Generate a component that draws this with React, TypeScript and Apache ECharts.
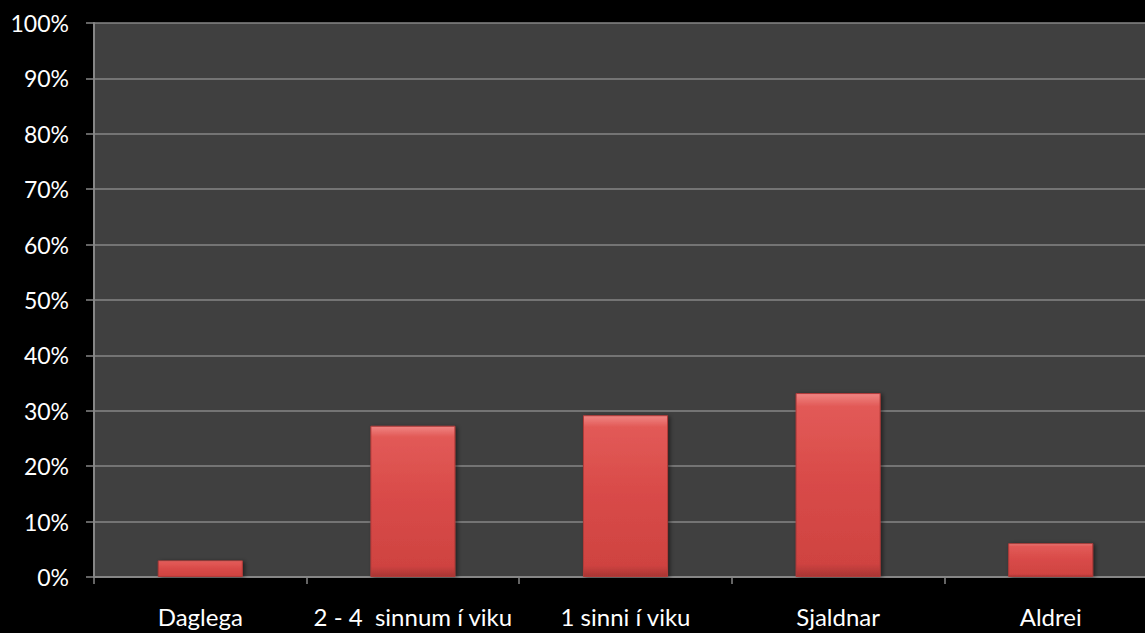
import React, { useEffect, useRef } from "react";
import * as echarts from "echarts";

const categories = ["Daglega", "2 - 4  sinnum í viku", "1 sinni í viku", "Sjaldnar", "Aldrei"];
const values = [0.03, 0.273, 0.292, 0.332, 0.061];
const yTicks = [0, 0.1, 0.2, 0.3, 0.4, 0.5, 0.6, 0.7, 0.8, 0.9, 1];

export default function App() {
  const ref = useRef<HTMLDivElement>(null);
  useEffect(() => {
    document.body.style.margin = "0";
    document.body.style.background = "#000";
    document.body.style.overflow = "hidden";
    const chart = echarts.init(ref.current!, null, { renderer: "svg" });
    const font = "Lato, sans-serif";
    chart.setOption({
      animation: false,
      backgroundColor: "#000000",
      grid: {
        left: 94,
        right: 0,
        top: 23,
        bottom: 56,
        show: true,
        backgroundColor: "#404040",
        borderWidth: 0,
      },
      xAxis: {
        type: "category",
        data: categories,
        axisLine: { show: true, lineStyle: { color: "#868686", width: 2 } },
        axisTick: { show: true, length: 7, lineStyle: { color: "#868686", width: 1.5 } },
        axisLabel: { color: "#ffffff", fontFamily: font, fontSize: 24, margin: 27, interval: 0 },
        splitLine: { show: false },
      },
      yAxis: {
        type: "value",
        min: 0,
        max: 1,
        interval: 0.1,
        axisLine: { show: true, lineStyle: { color: "#868686", width: 2 } },
        axisTick: { show: true, length: 8, lineStyle: { color: "#868686", width: 1.5 } },
        axisLabel: {
          color: "#ffffff",
          fontFamily: font,
          fontSize: 23,
          margin: 25,
          formatter: (v: number) => {
            const t = yTicks.find((x) => Math.abs(x - v) < 1e-6);
            return Math.round((t ?? v) * 100) + "%";
          },
        },
        splitLine: { show: true, lineStyle: { color: "#868686", width: 1.5 } },
      },
      series: [
        {
          type: "bar",
          data: values,
          barWidth: "40%",
          itemStyle: {
            color: new echarts.graphic.LinearGradient(0, 0, 0, 1, [
              { offset: 0, color: "#f08583" },
              { offset: 0.07, color: "#e25a57" },
              { offset: 0.5, color: "#d84a48" },
              { offset: 0.93, color: "#cf4341" },
              { offset: 1, color: "#a83533" },
            ]),
            borderColor: "#b23b39",
            borderWidth: 1,
            shadowColor: "rgba(0,0,0,0.5)",
            shadowBlur: 4,
            shadowOffsetX: 2,
            shadowOffsetY: 1,
          },
        },
      ],
    });
    return () => chart.dispose();
  }, []);
  return <div ref={ref} style={{ width: 1157, height: 633 }} />;
}
